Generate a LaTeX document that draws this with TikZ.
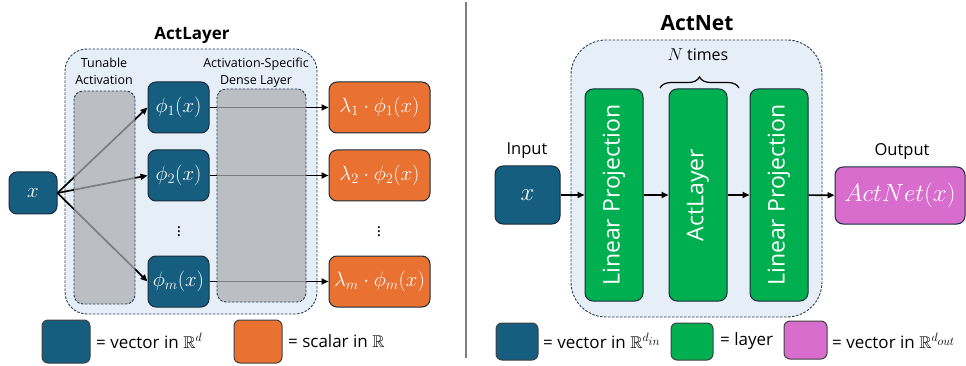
\documentclass[tikz,border=0pt]{standalone}
\usepackage{fontspec}
\usepackage{amssymb}
\setmainfont{Open Sans}
\usetikzlibrary{positioning, arrows.meta, decorations.pathreplacing}
\definecolor{vecblue}{RGB}{22,94,128}
\definecolor{scaorange}{RGB}{233,113,50}
\definecolor{laygreen}{RGB}{0,176,80}
\definecolor{outpink}{RGB}{216,109,205}
\definecolor{boxline}{RGB}{24,44,60}
\definecolor{grpfill}{RGB}{230,238,248}
\definecolor{grpline}{RGB}{40,60,80}
\definecolor{tunegray}{RGB}{172,174,177}
\newcommand\fsz[1]{\fontsize{#1}{#1}\selectfont}
\tikzset{
  box/.style={draw=boxline, line width=1pt, rounded corners=8pt, inner sep=0pt, text=white},
  vec/.style={box, fill=vecblue, minimum width=61pt, minimum height=51pt, font=\fsz{20}},
  sca/.style={box, fill=scaorange, minimum width=101pt, minimum height=51pt, font=\fsz{20}},
  lay/.style={box, fill=laygreen, minimum width=58pt, minimum height=212pt, font=\fsz{23}},
  grp/.style={draw=grpline, fill=grpfill, line width=0.9pt, dash pattern=on 2.5pt off 1.5pt, inner sep=0pt},
  tune/.style={draw=grpline, fill=tunegray, fill opacity=0.73, line width=0.9pt, dash pattern=on 2.5pt off 1.5pt, rounded corners=9pt, inner sep=0pt},
  key/.style={draw=black!75, line width=1pt, rounded corners=6pt, inner sep=0pt},
  lbl/.style={font=\fsz{17}, anchor=west, inner sep=0pt},
  arr/.style={-{Triangle[length=7pt,width=6pt]}, line width=1.7pt},
}
\begin{document}
\begin{tikzpicture}[x=1pt, y=-1pt]
  \useasboundingbox (0,0) rectangle (966,366);
  % ActLayer
  \node [grp, rounded corners=22pt, minimum width=252pt, minimum height=265pt] (AL) at (191,181.5) {};
  \node [font=\bfseries\fsz{17}] (ALt) at (192,35) {ActLayer};
  \node [font=\fsz{12.5}, align=center] (Tt) at (104,71.5) {Tunable\\[4.5pt]Activation};
  \node [font=\fsz{12.5}, align=center] (Dt) at (256,72.5) {Activation-Specific\\[4.5pt]Dense Layer};
  \node [vec, minimum width=48pt, minimum height=42pt] (x) at (33,193) {$x$};
  \node [vec] (P1) at (178.5,107.5) {$\phi_1(x)$};
  \node [vec] (P2) at (178.5,175.5) {$\phi_2(x)$};
  \node [vec] (Pm) at (178.5,281.5) {$\phi_m(x)$};
  \node [font=\fsz{16}] (Pd) at (179,229) {$\vdots$};
  \node [sca] (L1) at (379.5,107.5) {$\lambda_1\cdot\phi_1(x)$};
  \node [sca] (L2) at (379.5,175.5) {$\lambda_2\cdot\phi_2(x)$};
  \node [sca] (Lm) at (379.5,281.5) {$\lambda_m\cdot\phi_m(x)$};
  \node [font=\fsz{16}] (Ld) at (379,229) {$\vdots$};
  \foreach \p in {P1,P2,Pm}
    \draw [arr] (x.east) -- (\p.west);
  \draw [arr] (P1) -- (L1);
  \draw [arr] (P2) -- (L2);
  \draw [arr] (Pm) -- (Lm);
  \node [tune, minimum width=61pt, minimum height=213pt] (T) at (104.5,197.5) {};
  \node [tune, minimum width=89pt, minimum height=213pt] (D) at (261.5,195.5) {};
  \node [key, fill=vecblue, minimum width=48pt, minimum height=43pt] (K1) at (66,341.5) {};
  \node [lbl] (K1t) at (96,341) {= vector in $\mathbb{R}^d$};
  \node [key, fill=scaorange, minimum width=48pt, minimum height=43pt] (K2) at (258,341.5) {};
  \node [lbl] (K2t) at (288,341) {= scalar in $\mathbb{R}$};
  \draw [black!50, line width=1.2pt] (466,2) -- (466,358);
  % ActNet
  \node [grp, rounded corners=35pt, minimum width=251pt, minimum height=277pt] (AN) at (696.5,178.5) {};
  \node [font=\bfseries\fsz{21}] (ANt) at (697,23) {ActNet};
  \node [font=\fsz{16}] (Nt) at (698,55) {$N$ times};
  \draw [decorate, decoration={brace, amplitude=11pt}, line width=1.2pt] (660,88) -- (739,88);
  \node [box, fill=vecblue, minimum width=65pt, minimum height=58pt, font=\fsz{24}] (in) at (527.5,195) {$x$};
  \node [font=\fsz{16.5}] (int) at (527,151) {Input};
  \node [lay] (LP1) at (614,195) {\rotatebox{90}{Linear Projection}};
  \node [lay] (ALy) at (698,195) {\rotatebox{90}{ActLayer}};
  \node [lay] (LP2) at (779,195) {\rotatebox{90}{Linear Projection}};
  \node [box, fill=outpink, minimum width=130pt, minimum height=57pt, font=\fsz{24}] (out) at (900,195.5) {$ActNet(x)$};
  \node [font=\fsz{16.5}] (outt) at (902,152) {Output};
  \draw [arr] (in) -- (LP1);
  \draw [arr] (LP1) -- (ALy);
  \draw [arr] (ALy) -- (LP2);
  \draw [arr] (LP2) -- (out);
  \node [key, fill=vecblue, minimum width=42pt, minimum height=37pt] (K3) at (517,341.5) {};
  \node [lbl] (K3t) at (543,341) {= vector in $\mathbb{R}^{d_{\scriptstyle in}}$};
  \node [key, fill=laygreen, minimum width=42pt, minimum height=37pt] (K4) at (692,341.5) {};
  \node [lbl] (K4t) at (720,341) {= layer};
  \node [key, fill=outpink, minimum width=43pt, minimum height=38pt] (K5) at (805.5,340) {};
  \node [lbl] (K5t) at (832,341) {= vector in $\mathbb{R}^{d_{\scriptstyle out}}$};
\end{tikzpicture}
\end{document}
